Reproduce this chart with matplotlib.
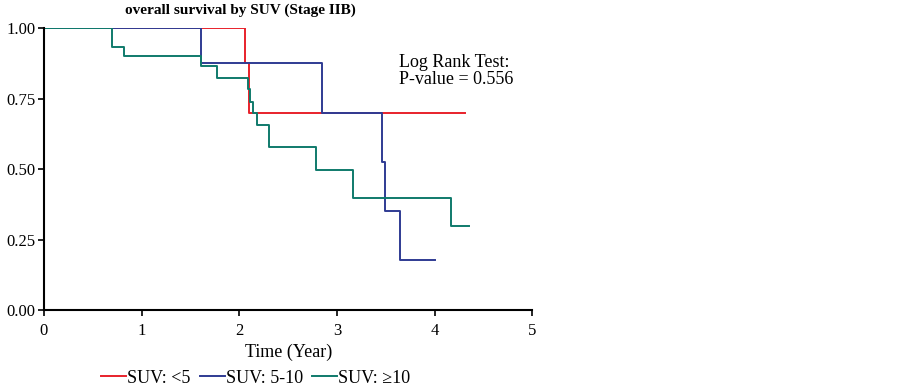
import matplotlib.pyplot as plt

plt.rcParams["font.family"] = ["Liberation Serif", "DejaVu Serif"]

# step curves (time in years, survival)
red_t = [0, 2.055, 2.10, 4.31]
red_s = [1.0, 0.875, 0.70, 0.70]

blue_t = [0, 1.605, 2.85, 3.46, 3.49, 3.64, 4.0]
blue_s = [1.0, 0.875, 0.70, 0.525, 0.352, 0.178, 0.178]

green_t = [0, 0.695, 0.82, 1.605, 1.77, 2.09, 2.11, 2.14, 2.18, 2.30, 2.78, 3.16, 4.17, 4.35]
green_s = [1.0, 0.933, 0.90, 0.866, 0.823, 0.783, 0.739, 0.70, 0.656, 0.578, 0.496, 0.397, 0.298, 0.298]

labels = ["SUV: <5", "SUV: 5-10", "SUV: \u226510"]
colors = ["#e8212b", "#2f3b93", "#0f7a6b"]

fig = plt.figure(figsize=(9.03, 3.89), dpi=100)
ax = fig.add_axes([0.0487, 0.203, 0.541, 0.725])

ax.step(red_t, red_s, where="post", c=colors[0], lw=1.4, label=labels[0])
ax.step(blue_t, blue_s, where="post", c=colors[1], lw=1.4, label=labels[1])
ax.step(green_t, green_s, where="post", c=colors[2], lw=1.4, label=labels[2])

ax.set_xlim(0, 5)
ax.set_ylim(0, 1)
ax.set_xticks([0, 1, 2, 3, 4, 5])
ax.set_yticks([0, 0.25, 0.5, 0.75, 1.0])
ax.set_yticklabels(["0.00", "0.25", "0.50", "0.75", "1.00"])
ax.spines["top"].set_visible(False)
ax.spines["right"].set_visible(False)
ax.spines["left"].set_linewidth(1.5)
ax.spines["bottom"].set_linewidth(1.5)
ax.tick_params(axis="y", labelsize=12, length=4, width=1.2, pad=2)
ax.tick_params(axis="x", labelsize=12, length=4, width=1.2, pad=5)

ax.set_xlabel("Time (Year)", fontsize=13, labelpad=4)
fig.text(240 / 903, 0.974, "overall survival by SUV (Stage IIB)", fontsize=11,
         fontweight="bold", ha="center", va="center")
ax.text(3.63, 0.80, "Log Rank Test:\nP-value = 0.556", fontsize=13, linespacing=1.05)

fig.legend(loc="center", bbox_to_anchor=(0.283, 0.028), ncol=3, frameon=False,
           fontsize=13, handlelength=1.4, handletextpad=0.05, columnspacing=0.5)

plt.savefig("out.png", dpi=100)
